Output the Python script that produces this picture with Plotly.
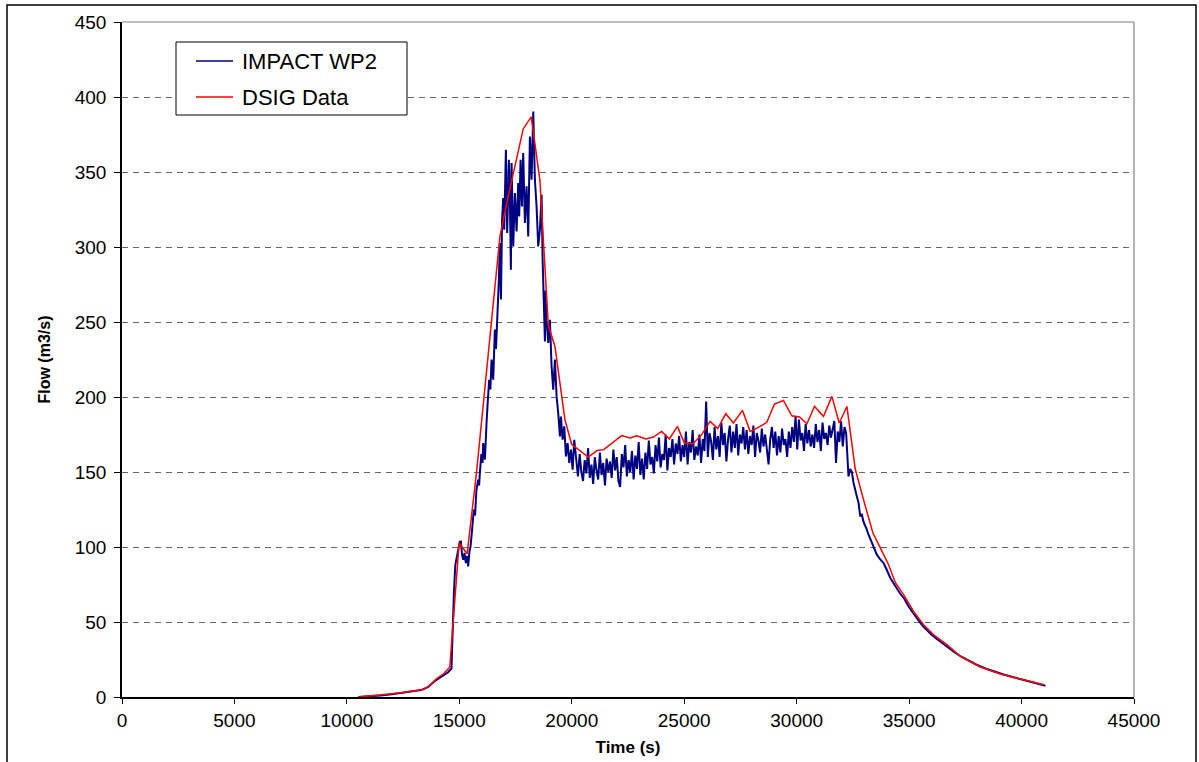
import plotly.graph_objects as go

# ---------------- data ----------------
# IMPACT WP2 (model) - explicit rising / peak / falling part
blue_rise_t = [10500, 11000, 11500, 12000, 12500, 13000, 13300, 13600, 13900, 14200, 14500, 14650,
               14700, 14760, 14820, 14875, 14950, 15020, 15067, 15120, 15170, 15230, 15289, 15340,
               15393, 15450, 15498, 15570, 15645, 15700, 15760, 15838, 15880, 15912, 15980, 16030,
               16060, 16135, 16170, 16210, 16260, 16327, 16380, 16432, 16506, 16540, 16580, 16630,
               16684, 16720, 16758, 16803, 16850, 16900, 16951, 16996, 17030, 17070, 17128, 17165,
               17203, 17248, 17292, 17322, 17396, 17470, 17545, 17618, 17662, 17723, 17782, 17840,
               17915, 17990, 18063, 18138, 18213, 18287, 18360, 18435, 18508, 18583, 18658, 18703,
               18761, 18806, 18836, 18880, 18953, 19027, 19102, 19176, 19251, 19325, 19397, 19473,
               19518, 19592, 19665, 19740, 19815, 19888, 19963, 20038, 20110]
blue_rise_v = [0, 0.3, 1.0, 1.8, 2.8, 3.8, 4.6, 6.5, 10.5, 13.5, 16.5, 19,
               45, 70, 88, 91.5, 98, 103.5, 103.7, 95, 91.5, 96, 89.3, 94,
               87, 97, 100.4, 112, 124.9, 121, 138, 144.9, 141, 149.3, 162, 156,
               169.3, 158.2, 178, 182.7, 196, 211.5, 205, 224.9, 211.5, 232, 244.9, 232,
               249.3, 266, 278.2, 302.7, 265, 318, 332.7, 311.5, 345, 364.9, 309.3, 330,
               358.2, 331.5, 284.9, 356, 300.4, 336, 310.4, 342.7, 320.4, 358.2, 327, 362.7,
               316, 340.4, 307, 373.7, 344.9, 390.4, 344.9, 327, 300.4, 311.5, 334.9, 291.5,
               262, 237, 271, 251.5, 236, 251.5, 220.4, 204.9, 224.9, 200.4, 189.3, 173.7,
               187, 171.5, 180.4, 160.4, 169.3, 156, 164.9, 151.5, 171.5]

# IMPACT WP2 - noisy plateau, sampled every 75 s from 20200 s
plateau_start = 20200
plateau_step = 75
blue_plateau_v = [
    160, 147, 162, 150, 144, 158, 149, 166, 146, 155, 142, 160, 151, 145, 163, 148, 156, 141, 159, 150,
    157, 146, 165, 151, 160, 144, 140, 162, 153, 168, 147, 158, 150, 164, 145, 161, 152, 170, 148, 159,
    145, 163, 152, 171, 155, 160, 149, 168, 157, 173, 153, 162, 158, 175, 151, 166, 160, 172, 155, 169,
    162, 174, 157, 168, 160, 177, 155, 170, 163, 178, 158, 167, 161, 175, 156, 172, 164, 197, 160, 176,
    170, 158, 180, 165, 174, 160, 183, 168, 176, 157, 172, 181, 163, 177, 166, 182, 161, 175, 169, 180,
    165, 178, 162, 174, 168, 181, 160, 176, 171, 163, 179, 167, 175, 164, 155, 172, 180, 166, 177, 161,
    174, 163, 179, 168, 172, 160, 177, 166, 180, 170, 187, 165, 185, 171, 176, 164, 182, 169, 178, 167,
    175, 166, 182, 170, 178, 164, 183, 172, 176, 168, 181, 173, 179, 184, 156, 177, 170, 184, 167, 180,
]

# IMPACT WP2 - recession
blue_tail_t = [32200, 32260, 32305, 32380, 32456, 32530, 32600, 32678, 32752, 32826, 32900, 32945,
               33020, 33093, 33196, 33300, 33418, 33490, 33567, 33700, 33863, 34000, 34160, 34300,
               34458, 34600, 34784, 34950, 35200, 35400, 35600, 35800, 36000, 36250, 36500, 36750,
               37000, 37300, 37600, 38000, 38400, 38800, 39200, 39600, 40000, 40400, 40800, 41061]
blue_tail_v = [176, 160, 147, 152, 150, 142.7, 137.5, 133.7, 129.3, 120.4, 122, 118.2,
               115, 112.7, 108.2, 104.5, 100.4, 98, 94.9, 92, 89.3, 85, 79.5, 76,
               72, 69, 65.5, 61, 55.5, 51.5, 47.5, 44.5, 41.5, 38.5, 35.5, 32.5,
               30, 27, 24.5, 21.5, 19, 16.8, 15, 13.3, 11.6, 10.2, 8.6, 7.5]

# DSIG Data
red_t = [10500, 11000, 11500, 12000, 12500, 13000, 13400, 13700, 14000, 14300, 14577, 14990,
         15347, 15765, 16580, 16803, 17173, 17545, 17841, 18197, 18583, 18955, 19251, 19473,
         19696, 19993, 20735, 21120, 21420, 22219, 22589, 22886, 23301, 23627, 23998, 24339,
         24695, 25006, 25378, 25780, 26150, 26492, 26848, 27187, 27587, 27930, 28300, 28672,
         29011, 29412, 29786, 30124, 30454, 30793, 31193, 31567, 31892, 32234, 32604, 32974,
         33391, 33687, 34087, 34383, 34755, 35200, 35645, 36090, 36684, 37277, 38168, 39058,
         39948, 40987]
red_v = [0, 0.6, 1.5, 2.2, 3.0, 4.0, 5.0, 8.0, 12.5, 15.5, 20, 102.7,
         95.5, 149.7, 271.5, 306.7, 333.7, 359.3, 378.7, 386.7, 344.5, 248, 233.7, 209.3,
         184.9, 168.5, 160, 164.3, 164.9, 174.3, 172.7, 174.2, 172, 173.3, 177.1, 172,
         180.4, 169.3, 168.7, 174.9, 183.7, 178.9, 188.9, 182.7, 191.1, 177.1, 179.7, 183.1,
         195.3, 197.7, 187.5, 186.7, 182.2, 193.7, 187.1, 200.4, 182.7, 193.7, 152, 131.5,
         109.3, 100.4, 88.2, 76.4, 68.2, 57.1, 48.2, 41.5, 34.9, 27.1, 20, 15.3,
         12, 8.2]

x_ticks = [0, 5000, 10000, 15000, 20000, 25000, 30000, 35000, 40000, 45000]
y_ticks = [0, 50, 100, 150, 200, 250, 300, 350, 400, 450]
series_names = ["IMPACT WP2", "DSIG Data"]
series_colors = ["#000080", "#FF0000"]

# ---------------- assemble ----------------
blue_plateau_t = [plateau_start + plateau_step * i for i in range(len(blue_plateau_v))]
blue_t = blue_rise_t + blue_plateau_t + blue_tail_t
blue_v = blue_rise_v + blue_plateau_v + blue_tail_v

W, H = 1199, 762
L, R, T, B = 122, 65, 22, 65
PW, PH = W - L - R, H - T - B


def px2x(px):
    return (px - L) / PW


def px2y(py):
    return (H - B - py) / PH


FONT = "Liberation Sans, Arial, sans-serif"

fig = go.Figure()
fig.add_trace(go.Scatter(x=blue_t, y=blue_v, mode="lines", name=series_names[0],
                         line=dict(color=series_colors[0], width=2), showlegend=False))
fig.add_trace(go.Scatter(x=red_t, y=red_v, mode="lines", name=series_names[1],
                         line=dict(color=series_colors[1], width=1.5), showlegend=False))

shapes = []
# outer chart frame
shapes.append(dict(type="rect", xref="paper", yref="paper",
                   x0=px2x(7), x1=px2x(1196), y0=px2y(800), y1=px2y(5),
                   line=dict(color="black", width=1.5), layer="above"))
# plot area border (top / right grey)
shapes.append(dict(type="line", xref="paper", yref="paper", x0=0, x1=1, y0=1, y1=1,
                   line=dict(color="#808080", width=1.2), layer="above"))
shapes.append(dict(type="line", xref="paper", yref="paper", x0=1, x1=1, y0=0, y1=1,
                   line=dict(color="#808080", width=1.2), layer="above"))
# legend box
shapes.append(dict(type="rect", xref="paper", yref="paper",
                   x0=px2x(176), x1=px2x(407), y0=px2y(115), y1=px2y(42),
                   line=dict(color="black", width=1), fillcolor="white", layer="above"))
annotations = []
for i, (name, col) in enumerate(zip(series_names, series_colors)):
    yy = px2y(61 + 36 * i)
    shapes.append(dict(type="line", xref="paper", yref="paper",
                       x0=px2x(196), x1=px2x(233), y0=yy, y1=yy,
                       line=dict(color=col, width=1.5), layer="above"))
    annotations.append(dict(xref="paper", yref="paper", x=px2x(240), y=yy,
                            text=name, showarrow=False, xanchor="left", yanchor="middle",
                            font=dict(family=FONT, size=22, color="black")))

fig.update_layout(
    width=W, height=H,
    margin=dict(l=L, r=R, t=T, b=B, pad=0),
    paper_bgcolor="white", plot_bgcolor="white",
    font=dict(family=FONT, color="black"),
    showlegend=False,
    shapes=shapes, annotations=annotations,
    xaxis=dict(range=[0, 45000], tickvals=x_ticks, ticktext=[str(v) for v in x_ticks],
               automargin=False,
               showgrid=False, zeroline=False, showline=True, linecolor="black", linewidth=1.5,
               ticks="outside", ticklen=5, tickwidth=1.2, tickcolor="black",
               tickfont=dict(family=FONT, size=19, color="black"),
               title=dict(text="<b>Time (s)</b>", font=dict(family=FONT, size=17, color="black"),
                          standoff=12)),
    yaxis=dict(range=[0, 450], tickvals=y_ticks, ticktext=[str(v) for v in y_ticks],
               automargin=False,
               showgrid=True, gridcolor="#666666", gridwidth=1, griddash="6px,5px",
               zeroline=False, showline=True, linecolor="black", linewidth=1.5,
               ticks="outside", ticklen=6, tickwidth=1.2, tickcolor="black",
               ticklabelstandoff=4,
               tickfont=dict(family=FONT, size=19, color="black"),
               title=dict(text="<b>Flow (m3/s)</b>", font=dict(family=FONT, size=16, color="black"),
                          standoff=20)),
)

fig.write_html("out.html")
